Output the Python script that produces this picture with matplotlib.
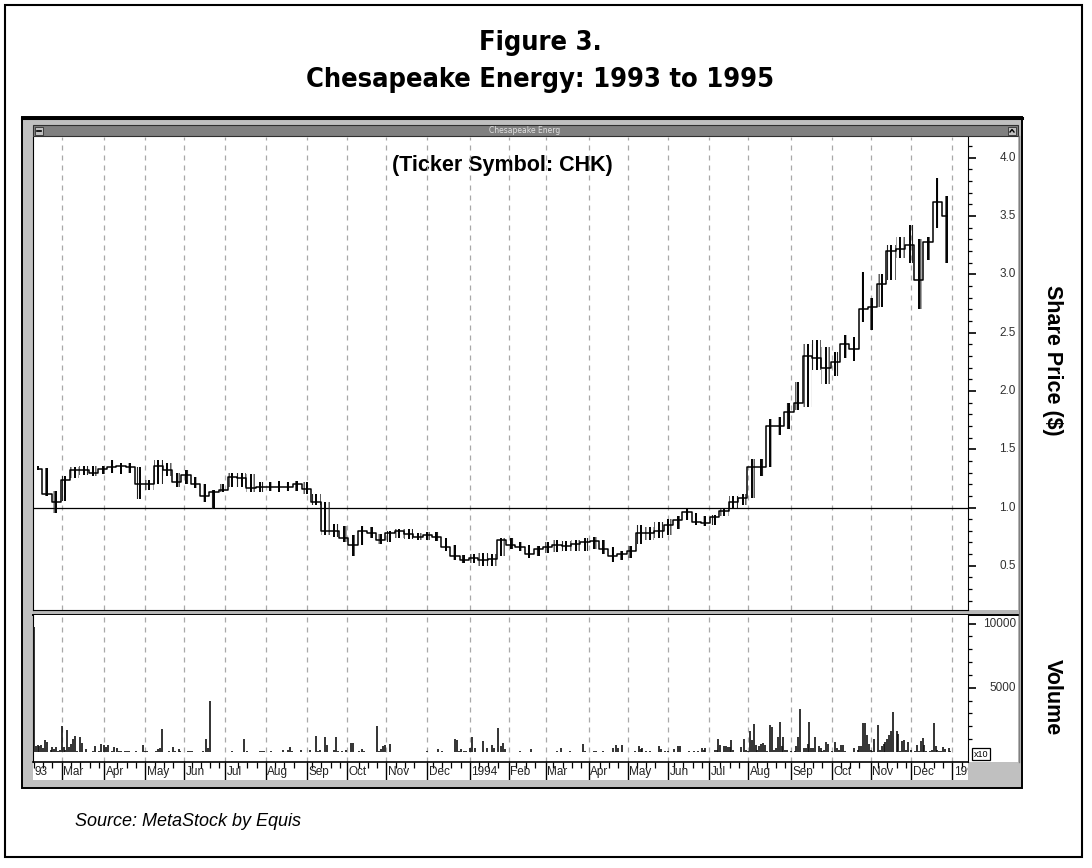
import numpy as np
import pandas as pd
import matplotlib
matplotlib.use('Agg')
import matplotlib.pyplot as plt
import matplotlib.transforms as mtransforms
from matplotlib.patches import Rectangle

W, H = 1092, 868

# weekly price bars (week starting Monday), in $
week_start = pd.date_range('1993-02-08', periods=99, freq='W-MON')
high = [1.36, 1.34, 1.14, 1.27, 1.35, 1.36, 1.36, 1.36, 1.41, 1.38,
        1.38, 1.35, 1.24, 1.41, 1.38, 1.30, 1.32, 1.26, 1.20, 1.15,
        1.20, 1.30, 1.30, 1.29, 1.22, 1.22, 1.23, 1.22, 1.23, 1.22,
        1.12, 1.05, 0.86, 0.84, 0.76, 0.84, 0.83, 0.77, 0.80, 0.82,
        0.82, 0.78, 0.79, 0.79, 0.74, 0.68, 0.59, 0.60, 0.61, 0.60,
        0.74, 0.74, 0.70, 0.68, 0.67, 0.70, 0.72, 0.71, 0.72, 0.74,
        0.75, 0.72, 0.66, 0.63, 0.67, 0.85, 0.83, 0.88, 0.90, 0.93,
        0.99, 0.95, 0.93, 0.94, 0.99, 1.10, 1.12, 1.42, 1.42, 1.76,
        1.78, 1.90, 2.08, 2.40, 2.44, 2.38, 2.33, 2.48, 2.46, 3.02,
        2.80, 3.00, 3.25, 3.32, 3.42, 3.30, 3.32, 3.83, 3.67]
low = [1.32, 1.10, 0.95, 1.06, 1.25, 1.28, 1.27, 1.29, 1.30, 1.29,
       1.30, 1.07, 1.15, 1.20, 1.27, 1.18, 1.20, 1.17, 1.05, 0.99,
       1.13, 1.18, 1.18, 1.13, 1.13, 1.14, 1.13, 1.14, 1.14, 1.12,
       1.02, 0.76, 0.75, 0.70, 0.58, 0.68, 0.74, 0.69, 0.70, 0.74,
       0.73, 0.72, 0.72, 0.71, 0.63, 0.55, 0.52, 0.52, 0.50, 0.50,
       0.58, 0.64, 0.63, 0.57, 0.58, 0.61, 0.62, 0.63, 0.63, 0.63,
       0.64, 0.60, 0.53, 0.55, 0.57, 0.69, 0.72, 0.74, 0.76, 0.82,
       0.89, 0.85, 0.84, 0.85, 0.93, 1.00, 1.02, 1.08, 1.27, 1.35,
       1.62, 1.67, 1.84, 1.86, 2.18, 2.06, 2.13, 2.28, 2.26, 2.59,
       2.52, 2.72, 2.95, 3.14, 3.10, 2.70, 3.12, 3.40, 3.10]
close = [1.33, 1.12, 1.05, 1.24, 1.32, 1.32, 1.30, 1.33, 1.35, 1.36,
         1.35, 1.20, 1.20, 1.36, 1.32, 1.22, 1.28, 1.20, 1.10, 1.13,
         1.15, 1.26, 1.25, 1.17, 1.18, 1.18, 1.18, 1.18, 1.20, 1.16,
         1.05, 0.80, 0.80, 0.74, 0.68, 0.80, 0.78, 0.72, 0.78, 0.80,
         0.77, 0.75, 0.76, 0.75, 0.66, 0.58, 0.55, 0.57, 0.55, 0.56,
         0.72, 0.68, 0.66, 0.60, 0.64, 0.66, 0.68, 0.67, 0.69, 0.70,
         0.71, 0.64, 0.58, 0.60, 0.63, 0.78, 0.78, 0.80, 0.85, 0.89,
         0.96, 0.88, 0.87, 0.92, 0.97, 1.05, 1.08, 1.35, 1.35, 1.70,
         1.70, 1.82, 1.90, 2.30, 2.28, 2.20, 2.25, 2.40, 2.36, 2.70,
         2.72, 2.92, 3.20, 3.22, 3.25, 2.95, 3.28, 3.62, 3.50]

# daily volume (x10), trading day number counted from 1993-02-08
vol_day = [0, 1, 2, 3, 4, 5, 6, 7, 9, 10, 11, 12, 13, 14, 15, 16, 17, 18, 19, 20,
           21, 22, 23, 25, 26, 28, 32, 33, 35, 36, 38, 39, 40, 42, 43, 45, 46, 47, 49, 50,
           51, 55, 59, 60, 61, 66, 67, 68, 69, 73, 75, 76, 78, 79, 83, 84, 85, 91, 93, 94,
           95, 107, 113, 115, 122, 123, 124, 128, 134, 137, 138, 139, 144, 149, 152, 153, 154, 157, 158, 162,
           163, 164, 166, 168, 171, 172, 175, 177, 178, 185, 186, 187, 188, 189, 192, 212, 218, 220, 227, 228,
           229, 230, 232, 233, 235, 236, 238, 242, 244, 247, 248, 250, 252, 253, 254, 262, 268, 282, 284, 289,
           296, 297, 302, 303, 307, 312, 314, 315, 317, 324, 326, 327, 328, 330, 332, 337, 338, 340, 342, 345,
           347, 348, 353, 356, 358, 360, 361, 362, 367, 368, 369, 370, 372, 373, 374, 375, 376, 377, 381, 383,
           384, 385, 386, 387, 388, 389, 390, 391, 392, 393, 394, 395, 397, 398, 399, 400, 401, 402, 403, 404,
           405, 406, 408, 410, 411, 412, 413, 415, 416, 417, 418, 419, 420, 421, 423, 424, 425, 426, 427, 428,
           430, 432, 433, 434, 435, 436, 437, 442, 444, 445, 446, 447, 448, 449, 450, 451, 452, 453, 455, 456,
           457, 458, 459, 460, 461, 462, 463, 465, 466, 467, 468, 469, 470, 471, 473, 475, 476, 477, 478, 479,
           480, 481, 483, 484, 485, 486, 487, 488, 489, 490, 491, 493, 494]
vol_value = [9700, 440, 520, 480, 520, 330, 910, 750, 180, 360, 250, 360, 100, 180, 2030, 360, 180, 1710, 360, 620,
             1020, 1280, 80, 1150, 680, 200, 100, 440, 100, 650, 520, 360, 520, 80, 360, 300, 80, 80, 80, 80,
             80, 80, 520, 80, 80, 100, 250, 300, 1790, 100, 360, 80, 250, 100, 80, 80, 80, 80, 1020, 300,
             4010, 100, 1020, 80, 80, 80, 80, 80, 180, 120, 360, 100, 120, 120, 1280, 100, 180, 1150, 520, 120,
             1150, 100, 100, 120, 715, 715, 80, 220, 80, 2040, 100, 220, 480, 520, 650, 80, 250, 100, 1030, 900,
             100, 200, 100, 100, 300, 1170, 300, 850, 300, 520, 300, 1830, 480, 715, 220, 80, 220, 100, 300, 80,
             650, 100, 80, 80, 100, 300, 520, 300, 520, 100, 480, 250, 300, 100, 100, 480, 220, 100, 100, 250,
             480, 480, 100, 100, 100, 300, 190, 320, 190, 190, 980, 530, 450, 450, 370, 370, 900, 190, 370, 980,
             190, 110, 1640, 900, 2170, 530, 190, 450, 640, 710, 530, 60, 2120, 1960, 190, 320, 1170, 2300, 450, 1170,
             190, 190, 110, 60, 450, 1170, 3310, 270, 270, 640, 2360, 270, 270, 1190, 450, 270, 110, 190, 770, 590,
             110, 770, 320, 190, 530, 530, 110, 270, 190, 450, 450, 2280, 2250, 1300, 590, 190, 60, 1030, 2120, 190,
             450, 590, 770, 1030, 1300, 1640, 3100, 1640, 1380, 110, 850, 900, 190, 770, 190, 60, 530, 110, 850, 1110,
             530, 110, 110, 190, 2280, 450, 190, 60, 110, 370, 240, 320, 110]

price_ticks = [0.5, 1.0, 1.5, 2.0, 2.5, 3.0, 3.5, 4.0]
vol_ticks = [5000, 10000]

# trading-day axis (business days)
bdays = pd.bdate_range('1993-02-08', '1995-03-31')
wx = np.searchsorted(bdays.values, week_start.values) + 2
month_starts = pd.date_range('1993-03-01', '1995-01-01', freq='MS')
mx = np.searchsorted(bdays.values, month_starts.values)
mlabels = [d.strftime('%Y') if d.month == 1 else d.strftime('%b') for d in month_starts]
mondays = pd.date_range('1993-02-08', '1995-01-30', freq='W-MON')
wk = np.searchsorted(bdays.values, mondays.values)
wk = [w for w in wk if np.min(np.abs(mx - w)) > 2]
XL = (-0.5, 503.5)


def px_box(x0, y0, x1, y1):
    return [x0 / W, 1 - y1 / H, (x1 - x0) / W, (y1 - y0) / H]


plt.rcParams['hatch.linewidth'] = 0.8
fig = plt.figure(figsize=(W / 100, H / 100), dpi=100)
bg = fig.add_axes([0, 0, 1, 1], zorder=0)
bg.set_xlim(0, W)
bg.set_ylim(H, 0)
bg.axis('off')

bg.add_patch(Rectangle((5, 5), 1077, 852, fill=False, ec='black', lw=1.5))
bg.add_patch(Rectangle((22, 117), 1000, 671, fc='#c0c0c0', ec='black', lw=1.4))
bg.plot([22, 1022], [117.5, 117.5], color='black', lw=2.2)
bg.add_patch(Rectangle((33, 136), 985, 626, fc='white', ec='none'))
bg.add_patch(Rectangle((33, 762), 935, 18, fc='white', ec='none'))
bg.add_patch(Rectangle((33, 125), 985, 11, fc='#808080', ec='#303030', lw=0.8))
bg.add_patch(Rectangle((35, 126.5), 8, 8, fc='#c0c0c0', ec='#303030', lw=0.6))
bg.add_patch(Rectangle((1008, 126.5), 8, 8, fc='#c0c0c0', ec='#303030', lw=0.6))
bg.plot([37, 41], [130.5, 130.5], color='black', lw=1.2)
bg.plot([1010, 1012, 1014], [132, 129.5, 132], color='black', lw=1)
bg.text(525, 130.5, 'Chesapeake Energ', ha='center', va='center', fontsize=5.5,
        color='#e0e0e0', family='DejaVu Sans')
bg.add_patch(Rectangle((33, 610), 985, 4.5, fc='#b8b8b8', ec='none'))
bg.plot([33, 1018], [614.5, 614.5], color='black', lw=1.4)
bg.plot([1018.5, 1018.5], [136, 762], color='#808080', lw=1)

font_title = ['DejaVu Sans', 'Liberation Sans']
bg.text(540, 43, 'Figure 3.', ha='center', va='center', fontsize=19.5, weight='bold',
        stretch='condensed', family=font_title)
bg.text(540, 80, 'Chesapeake Energy: 1993 to 1995', ha='center', va='center', fontsize=19.5,
        weight='bold', stretch='condensed', family=font_title)
bg.text(502, 165, '(Ticker Symbol: CHK)', ha='center', va='center', fontsize=15.5,
        weight='bold', family=['Liberation Sans', 'DejaVu Sans'])
bg.text(1052, 360, 'Share Price ($)', ha='center', va='center', rotation=-90, fontsize=15.5,
        weight='bold', family=['Liberation Sans', 'DejaVu Sans'])
bg.text(1052, 697, 'Volume', ha='center', va='center', rotation=-90, fontsize=15.5,
        weight='bold', family=['Liberation Sans', 'DejaVu Sans'])
bg.text(75, 822, 'Source: MetaStock by Equis', ha='left', va='center', fontsize=13,
        style='italic', family=['Liberation Sans', 'DejaVu Sans'])

grid_kw = dict(color='#a8a8a8', lw=0.9, ls=(0, (4, 4)), zorder=1)

# price panel
ax = fig.add_axes(px_box(33, 137, 968, 610), zorder=2)
ax.patch.set_alpha(0)
ax.set_xlim(*XL)
ax.set_ylim(0.121, 4.178)
for m in mx:
    ax.axvline(m, **grid_kw)
ax.axhline(1.0, color='black', lw=0.9, zorder=2)
ax.fill_between(wx, low, high, step='mid', facecolor='none', edgecolor='#222222',
                hatch='||', lw=0, zorder=3)
ax.vlines(wx, low, high, color='black', lw=1.4, zorder=3)
ax.plot(wx, close, drawstyle='steps-mid', color='black', lw=1.1, zorder=3)
ax.spines['top'].set_visible(False)
ax.set_xticks([])
ax.yaxis.tick_right()
ax.set_yticks(price_ticks)
ax.set_yticks(np.arange(0.2, 4.15, 0.1), minor=True)
ax.tick_params(axis='y', which='major', length=6, width=1.2, labelright=False)
ax.tick_params(axis='y', which='minor', length=2.6, width=0.9)
trans_p = mtransforms.blended_transform_factory(bg.transData, ax.transData)
for p in price_ticks:
    ax.text(1016, p, f'{p:.1f}', transform=trans_p, ha='right', va='center', fontsize=8.5,
            color='#303030', family=['Liberation Sans', 'DejaVu Sans'])

# volume panel
axv = fig.add_axes(px_box(33, 615, 968, 762), zorder=2)
axv.set_xlim(*XL)
axv.set_ylim(-782, 10673)
for m in mx:
    axv.axvline(m, **grid_kw)
axv.vlines(vol_day, 0, vol_value, color='#111111', lw=1.2, zorder=3)
axv.spines['top'].set_visible(False)
axv.spines['bottom'].set_visible(False)
axv.set_xticks([])
axv.yaxis.tick_right()
axv.set_yticks(vol_ticks)
axv.set_yticks(np.arange(1000, 10001, 1000), minor=True)
axv.tick_params(axis='y', which='major', length=6, width=1.2, labelright=False)
axv.tick_params(axis='y', which='minor', length=2.6, width=0.9)
trans_v = mtransforms.blended_transform_factory(bg.transData, axv.transData)
for v in vol_ticks:
    axv.text(1016, v, str(v), transform=trans_v, ha='right', va='center', fontsize=8.5,
             color='#303030', family=['Liberation Sans', 'DejaVu Sans'])
bg.add_patch(Rectangle((972, 748), 18, 12, fill=False, ec='black', lw=0.9))
bg.text(981, 754.5, 'x10', ha='center', va='center', fontsize=6.5, color='black',
        family=['Liberation Sans', 'DejaVu Sans'])

# date strip
axd = fig.add_axes(px_box(33, 762, 968, 780), zorder=2)
axd.set_xlim(*XL)
axd.set_ylim(0, 1)
axd.patch.set_alpha(0)
for s in ['left', 'right', 'bottom']:
    axd.spines[s].set_visible(False)
axd.spines['top'].set_linewidth(1.2)
axd.set_xticks([])
axd.set_yticks([])
axd.vlines(mx, 0, 1, color='black', lw=1)
axd.vlines(wk, 0.68, 1, color='black', lw=0.9)
lab_kw = dict(ha='left', va='center', fontsize=8.5, color='#202020', clip_on=True,
              family=['Liberation Sans', 'DejaVu Sans'])
axd.text(XL[0] + 0.6, 0.42, '93', **lab_kw)
for m, lab in zip(mx, mlabels):
    axd.text(m + 0.8, 0.42, lab, **lab_kw)

plt.savefig('out.png', dpi=100)
